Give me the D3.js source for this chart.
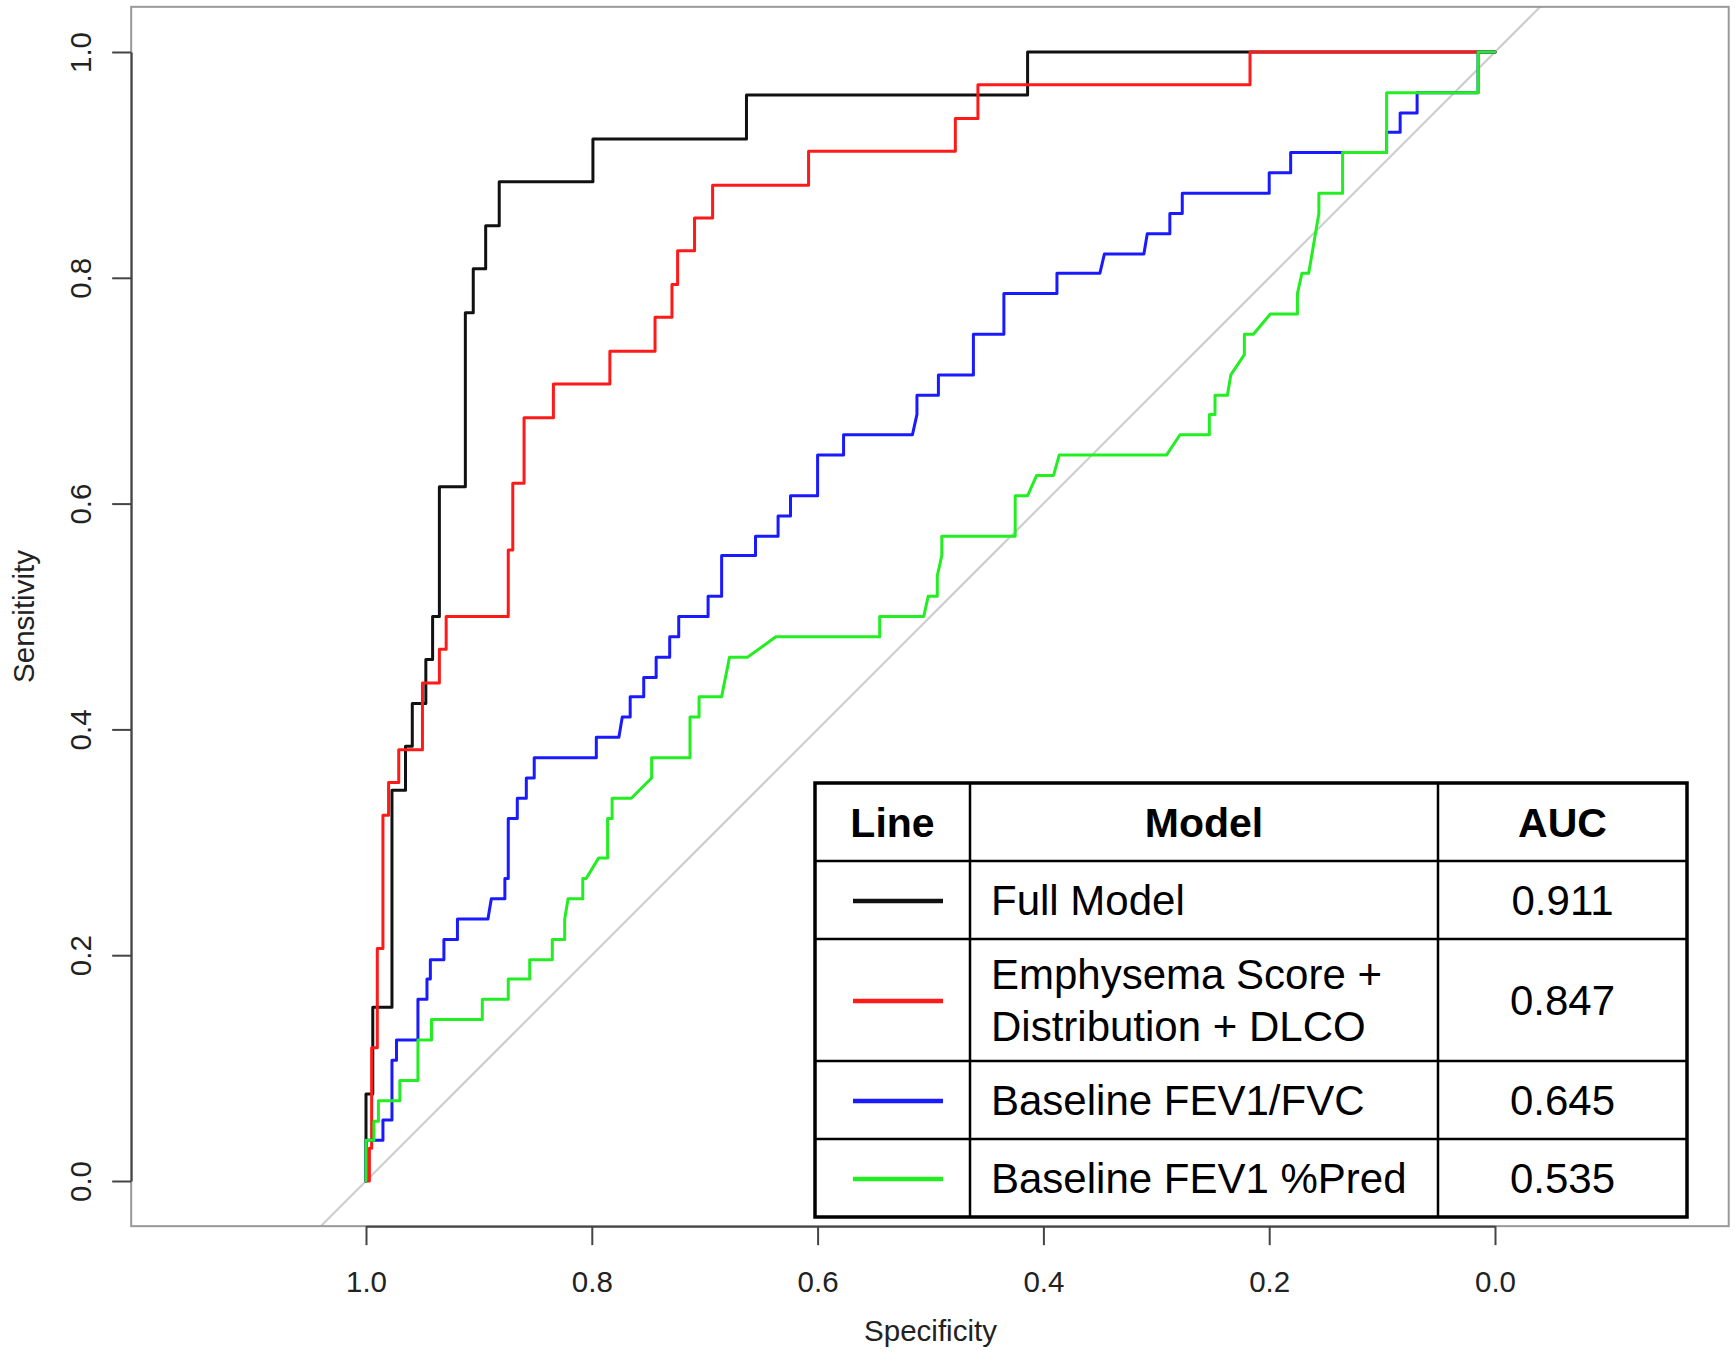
<!DOCTYPE html>
<html>
<head>
<meta charset="utf-8">
<script src="https://cdn.jsdelivr.net/npm/d3@7"></script>
<style>
  body { margin: 0; background: #fff; }
  text { font-family: "Liberation Sans", Arial, Helvetica, sans-serif; }
</style>
</head>
<body>
<script>
// ROC points as [specificity, sensitivity]
let fullModelRoc = [[1,0],[1,0.077],[0.994,0.077],[0.994,0.154],[0.977,0.154],[0.977,0.346],[0.965,0.346],[0.965,0.385],
  [0.959,0.385],[0.959,0.423],[0.947,0.423],[0.947,0.462],[0.941,0.462],[0.941,0.5],[0.935,0.5],[0.935,0.615],
  [0.912,0.615],[0.912,0.769],[0.905,0.769],[0.905,0.808],[0.894,0.808],[0.894,0.846],[0.882,0.846],[0.882,0.885],
  [0.799,0.885],[0.799,0.923],[0.663,0.923],[0.663,0.962],[0.414,0.962],[0.414,1],[0,1]]

let emphysemaRoc = [[1,0],[0.997,0],[0.997,0.029],[0.995,0.029],[0.995,0.118],[0.990,0.118],[0.990,0.206],[0.985,0.206],
  [0.985,0.324],[0.980,0.324],[0.980,0.353],[0.971,0.353],[0.971,0.382],[0.950,0.382],[0.950,0.441],[0.935,0.441],
  [0.935,0.471],[0.929,0.471],[0.929,0.5],[0.874,0.5],[0.874,0.559],[0.870,0.559],[0.870,0.618],[0.860,0.618],
  [0.860,0.676],[0.834,0.676],[0.834,0.706],[0.784,0.706],[0.784,0.735],[0.744,0.735],[0.744,0.765],[0.729,0.765],
  [0.729,0.794],[0.724,0.794],[0.724,0.824],[0.709,0.824],[0.709,0.853],[0.693,0.853],[0.693,0.882],[0.608,0.882],
  [0.608,0.912],[0.478,0.912],[0.478,0.941],[0.458,0.941],[0.458,0.971],[0.217,0.971],[0.217,1],[0,1]]

let fev1FvcRoc = [[1,0],[1,0.036],[0.985,0.036],[0.985,0.054],[0.977,0.054],[0.977,0.107],[0.973,0.107],[0.973,0.125],
  [0.954,0.125],[0.954,0.161],[0.946,0.161],[0.946,0.179],[0.943,0.179],[0.943,0.196],[0.931,0.196],[0.931,0.214],
  [0.919,0.214],[0.919,0.232],[0.892,0.232],[0.889,0.25],[0.877,0.25],[0.877,0.268],[0.874,0.268],[0.874,0.321],
  [0.866,0.321],[0.866,0.339],[0.858,0.339],[0.858,0.357],[0.851,0.357],[0.851,0.375],[0.796,0.375],[0.796,0.393],
  [0.776,0.393],[0.773,0.411],[0.766,0.411],[0.766,0.429],[0.754,0.429],[0.754,0.446],[0.743,0.446],[0.743,0.464],
  [0.731,0.464],[0.731,0.482],[0.723,0.482],[0.723,0.5],[0.697,0.5],[0.697,0.518],[0.685,0.518],[0.685,0.554],
  [0.655,0.554],[0.655,0.571],[0.635,0.571],[0.635,0.589],[0.624,0.589],[0.624,0.607],[0.600,0.607],[0.600,0.643],
  [0.577,0.643],[0.577,0.661],[0.516,0.661],[0.512,0.679],[0.512,0.696],[0.493,0.696],[0.493,0.714],[0.462,0.714],
  [0.462,0.75],[0.435,0.75],[0.435,0.786],[0.388,0.786],[0.388,0.804],[0.350,0.804],[0.346,0.821],[0.311,0.821],
  [0.308,0.839],[0.288,0.839],[0.288,0.857],[0.277,0.857],[0.277,0.875],[0.200,0.875],[0.200,0.893],[0.181,0.893],
  [0.181,0.911],[0.096,0.911],[0.096,0.929],[0.084,0.929],[0.084,0.946],[0.069,0.946],[0.069,0.964],[0.015,0.964],
  [0.015,1],[0,1]]

let fev1PredRoc = [[1,0],[1,0.036],[0.993,0.036],[0.993,0.053],[0.989,0.053],[0.989,0.071],[0.970,0.071],[0.970,0.089],
  [0.954,0.089],[0.954,0.125],[0.942,0.125],[0.942,0.143],[0.897,0.143],[0.897,0.161],[0.874,0.161],[0.874,0.179],
  [0.855,0.179],[0.855,0.196],[0.835,0.196],[0.835,0.214],[0.824,0.214],[0.824,0.232],[0.821,0.25],[0.808,0.25],
  [0.808,0.268],[0.805,0.268],[0.794,0.286],[0.786,0.286],[0.786,0.321],[0.782,0.321],[0.782,0.339],[0.765,0.339],
  [0.747,0.357],[0.747,0.375],[0.713,0.375],[0.713,0.411],[0.705,0.411],[0.705,0.429],[0.685,0.429],[0.678,0.464],
  [0.662,0.464],[0.637,0.482],[0.545,0.482],[0.545,0.5],[0.506,0.5],[0.502,0.518],[0.494,0.518],[0.494,0.536],
  [0.490,0.554],[0.490,0.571],[0.425,0.571],[0.425,0.607],[0.414,0.607],[0.406,0.625],[0.391,0.625],[0.386,0.643],
  [0.291,0.643],[0.279,0.661],[0.253,0.661],[0.253,0.679],[0.248,0.679],[0.248,0.696],[0.237,0.696],[0.234,0.714],
  [0.222,0.732],[0.222,0.75],[0.214,0.75],[0.199,0.768],[0.175,0.768],[0.175,0.786],[0.171,0.804],[0.165,0.804],
  [0.156,0.857],[0.156,0.875],[0.135,0.875],[0.135,0.911],[0.096,0.911],[0.096,0.964],[0.015,0.964],[0.015,1],[0,1]]

let rocCurves = [fullModelRoc, emphysemaRoc, fev1FvcRoc, fev1PredRoc]
let lineColors = ["#111111", "#ff1a1a", "#1a1aff", "#22ee22"]
let modelNames = [["Full Model"], ["Emphysema Score +", "Distribution + DLCO"], ["Baseline FEV1/FVC"], ["Baseline FEV1 %Pred"]]
let aucValues = ["0.911", "0.847", "0.645", "0.535"]
let tableHeader = ["Line", "Model", "AUC"]
let xTicks = [1.0, 0.8, 0.6, 0.4, 0.2, 0.0]
let yTicks = [0.0, 0.2, 0.4, 0.6, 0.8, 1.0]

let width = 1735,
    height = 1352

let svg = d3.select("body").append("svg")
    .attr("width", width)
    .attr("height", height)

// specificity runs backwards, like pROC
let x = d3.scaleLinear().domain([1, 0]).range([366, 1495])
let y = d3.scaleLinear().domain([0, 1]).range([1181, 52])

// plot region limits in data units
let xLim = [1.208, -0.207],
    yLim = [-0.04, 1.04]

let boxX = x(xLim[0]), boxY = y(yLim[1])
let boxW = x(xLim[1]) - boxX, boxH = y(yLim[0]) - boxY

svg.append("clipPath").attr("id", "plotclip")
    .append("rect")
    .attr("x", boxX).attr("y", boxY).attr("width", boxW).attr("height", boxH)

// chance line
svg.append("line")
    .attr("clip-path", "url(#plotclip)")
    .attr("x1", x(1.1)).attr("y1", y(-0.1))
    .attr("x2", x(-0.1)).attr("y2", y(1.1))
    .attr("stroke", "#cccccc")
    .attr("stroke-width", 2)

let rocLine = d3.line()
    .x(d => x(d[0]))
    .y(d => y(d[1]))

svg.append("g")
    .selectAll("path")
    .data(rocCurves)
    .enter()
    .append("path")
    .attr("d", rocLine)
    .attr("fill", "none")
    .attr("stroke", (d, i) => lineColors[i])
    .attr("stroke-width", 3)
    .attr("stroke-linejoin", "round")
    .attr("stroke-linecap", "round")

// frame
svg.append("rect")
    .attr("x", boxX).attr("y", boxY).attr("width", boxW).attr("height", boxH)
    .attr("fill", "none")
    .attr("stroke", "#999999")
    .attr("stroke-width", 2)

// axes
let yAxis = svg.append("g")
    .attr("transform", `translate(${boxX},0)`)
    .call(d3.axisLeft(y).tickValues(yTicks).tickSize(19).tickSizeOuter(0).tickFormat(d3.format(".1f")))
    .attr("font-size", null).attr("font-family", null)

yAxis.selectAll(".tick text")
    .attr("transform", "rotate(-90)")
    .attr("x", 0)
    .attr("y", -40)
    .attr("dy", null)
    .attr("text-anchor", "middle")
    .attr("fill", "#222")
    .style("font-size", "29.5px")

let xAxis = svg.append("g")
    .attr("transform", `translate(0,${boxY + boxH})`)
    .call(d3.axisBottom(x).tickValues(xTicks).tickSize(19).tickSizeOuter(0).tickFormat(d3.format(".1f")))
    .attr("font-size", null).attr("font-family", null)

xAxis.selectAll(".tick text")
    .attr("y", 66)
    .attr("dy", null)
    .attr("fill", "#222")
    .style("font-size", "29.5px")

svg.selectAll(".domain, .tick line")
    .attr("stroke", "#444")
    .attr("stroke-width", 2)

svg.append("text")
    .attr("x", x(0.5)).attr("y", 1341)
    .attr("text-anchor", "middle")
    .attr("fill", "#222")
    .style("font-size", "29.5px")
    .text("Specificity")

svg.append("text")
    .attr("transform", `translate(34,${y(0.5)}) rotate(-90)`)
    .attr("text-anchor", "middle")
    .attr("fill", "#222")
    .style("font-size", "29.5px")
    .text("Sensitivity")

// legend table
let colX = [815, 970, 1438, 1687]
let rowH = n => n === 1 ? 78 : 122
let rowTops = [783]
modelNames.forEach((lines, i) => rowTops.push(rowTops[i] + (i === 0 ? 78 : 0) + (i > 0 ? rowH(modelNames[i - 1].length) : 0)))
// rowTops[0] header top, rowTops[1..] body row tops
let tableBottom = rowTops[rowTops.length - 1] + rowH(modelNames[modelNames.length - 1].length)

let legend = svg.append("g")

legend.append("rect")
    .attr("x", colX[0]).attr("y", rowTops[0])
    .attr("width", colX[3] - colX[0]).attr("height", tableBottom - rowTops[0])
    .attr("fill", "#fff")

// inner grid
rowTops.slice(1).forEach(t => {
    legend.append("line")
        .attr("x1", colX[0]).attr("x2", colX[3])
        .attr("y1", t).attr("y2", t)
        .attr("stroke", "#000").attr("stroke-width", 2.5)
})
colX.slice(1, 3).forEach(c => {
    legend.append("line")
        .attr("x1", c).attr("x2", c)
        .attr("y1", rowTops[0]).attr("y2", tableBottom)
        .attr("stroke", "#000").attr("stroke-width", 2.5)
})
legend.append("rect")
    .attr("x", colX[0]).attr("y", rowTops[0])
    .attr("width", colX[3] - colX[0]).attr("height", tableBottom - rowTops[0])
    .attr("fill", "none")
    .attr("stroke", "#000").attr("stroke-width", 3.5)

let colCenter = i => (colX[i] + colX[i + 1]) / 2

tableHeader.forEach((h, i) => {
    legend.append("text")
        .attr("x", colCenter(i)).attr("y", rowTops[0] + 39 + 15)
        .attr("text-anchor", "middle")
        .attr("font-weight", "bold")
        .style("font-size", "41px")
        .text(h)
})

modelNames.forEach((lines, i) => {
    let top = rowTops[i + 1]
    let mid = top + rowH(lines.length) / 2

    legend.append("line")
        .attr("x1", 853).attr("x2", 943)
        .attr("y1", mid + 1).attr("y2", mid + 1)
        .attr("stroke", lineColors[i])
        .attr("stroke-width", 4.5)

    lines.forEach((t, j) => {
        legend.append("text")
            .attr("x", 991)
            .attr("y", mid + 15 + (j - (lines.length - 1) / 2) * 51.7)
            .style("font-size", "42px")
            .text(t)
    })

    legend.append("text")
        .attr("x", colCenter(2)).attr("y", mid + 15)
        .attr("text-anchor", "middle")
        .style("font-size", "42px")
        .text(aucValues[i])
})
</script>
</body>
</html>
